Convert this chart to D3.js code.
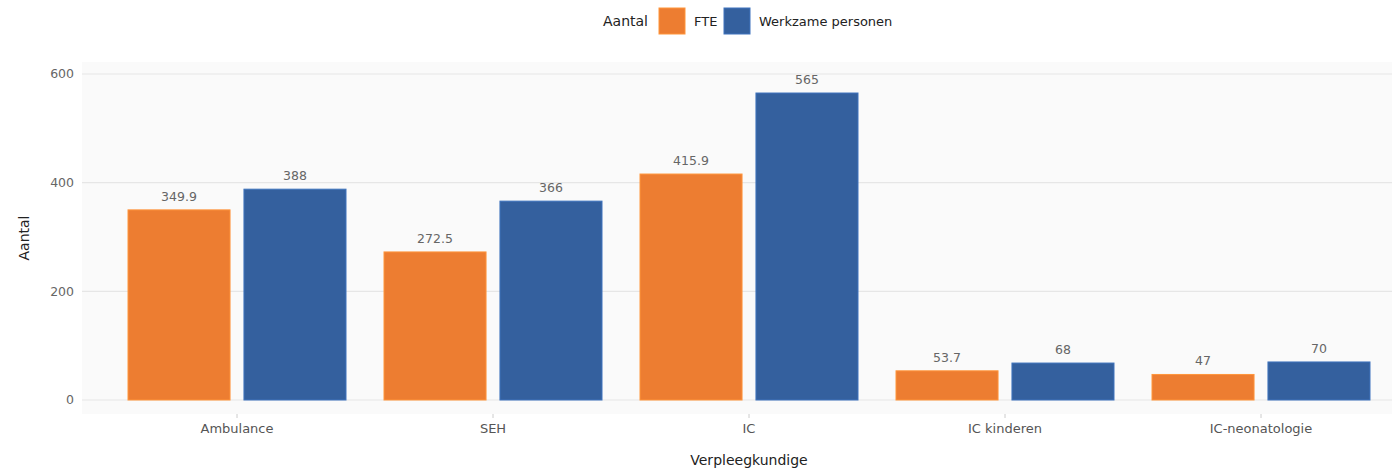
<!DOCTYPE html>
<html><head><meta charset="utf-8">
<script src="https://cdn.jsdelivr.net/npm/d3@7"></script>
<style>body{margin:0;background:#fff;} text{font-family:"DejaVu Sans",sans-serif;}</style>
</head><body>
<svg id="c" width="1395" height="468"></svg>
<script>
const categories = ["Ambulance","SEH","IC","IC kinderen","IC-neonatologie"];
const series = ["FTE","Werkzame personen"];
const fte = [349.9, 272.5, 415.9, 53.7, 47];
const werkzame = [388, 366, 565, 68, 70];
const yTicks = [0,200,400,600];
const colors = ["#ED7D31","#34609E"];

const svg = d3.select("#c");
const panel = {x0:82, x1:1392, y0:62, y1:414};
const x = d3.scaleBand().domain(categories).range([109,1389]).padding(0);
const xs = d3.scaleBand().domain(series).range([19,237]).paddingInner(0.12);
const y = d3.scaleLinear().domain([0,600]).range([400,74]);

svg.append("rect").attr("x",panel.x0).attr("y",panel.y0).attr("width",panel.x1-panel.x0).attr("height",panel.y1-panel.y0).attr("fill","#fafafa");

svg.append("g").selectAll("line").data(yTicks).join("line")
  .attr("x1",panel.x0).attr("x2",panel.x1).attr("y1",d=>y(d)).attr("y2",d=>y(d))
  .attr("stroke","#e6e6e6").attr("stroke-width",1.2);

svg.append("g").selectAll("text").data(yTicks).join("text")
  .attr("x",74).attr("y",d=>y(d)).attr("dy","0.35em").attr("text-anchor","end")
  .attr("font-size",12.5).attr("fill","#666").text(d=>d);

const data = [];
categories.forEach((c,i)=>{ data.push({c,s:series[0],v:fte[i]}); data.push({c,s:series[1],v:werkzame[i]}); });

svg.append("g").selectAll("rect").data(data).join("rect")
  .attr("x",d=>x(d.c)+xs(d.s)).attr("width",xs.bandwidth())
  .attr("y",d=>y(d.v)).attr("height",d=>y(0)-y(d.v))
  .attr("fill",d=>colors[series.indexOf(d.s)])
  .attr("stroke",d=>d3.color(colors[series.indexOf(d.s)]).brighter(0.5)).attr("stroke-width",1);

svg.append("g").selectAll("text").data(data).join("text")
  .attr("x",d=>x(d.c)+xs(d.s)+xs.bandwidth()/2).attr("y",d=>y(d.v)-9)
  .attr("text-anchor","middle").attr("font-size",12.5).attr("fill","#666").text(d=>d.v);

// x ticks
svg.append("g").selectAll("line").data(categories).join("line")
  .attr("x1",d=>x(d)+x.bandwidth()/2).attr("x2",d=>x(d)+x.bandwidth()/2)
  .attr("y1",panel.y1).attr("y2",panel.y1+4).attr("stroke","#ccc");
svg.append("g").selectAll("text").data(categories).join("text")
  .attr("x",d=>x(d)+x.bandwidth()/2).attr("y",433).attr("text-anchor","middle")
  .attr("font-size",13).attr("fill","#555").text(d=>d);

svg.append("text").attr("x",749).attr("y",465).attr("text-anchor","middle").attr("font-size",14).attr("fill","#222").text("Verpleegkundige");
svg.append("text").attr("transform","translate(29,238) rotate(-90)").attr("text-anchor","middle").attr("font-size",14).attr("fill","#222").text("Aantal");

// legend
const lg = svg.append("g");
lg.append("text").attr("x",603).attr("y",21).attr("dy","0.35em").attr("font-size",14).attr("fill","#222").text("Aantal");
const items = [{s:series[0],x:659,tx:694},{s:series[1],x:724,tx:759}];
items.forEach((it,i)=>{
  lg.append("rect").attr("x",it.x).attr("y",8).attr("width",26).attr("height",26).attr("fill",colors[i]).attr("stroke",d3.color(colors[i]).brighter(0.5));
  lg.append("text").attr("x",it.tx).attr("y",21).attr("dy","0.35em").attr("font-size",13).attr("fill","#222").text(it.s);
});
</script>
</body></html>
